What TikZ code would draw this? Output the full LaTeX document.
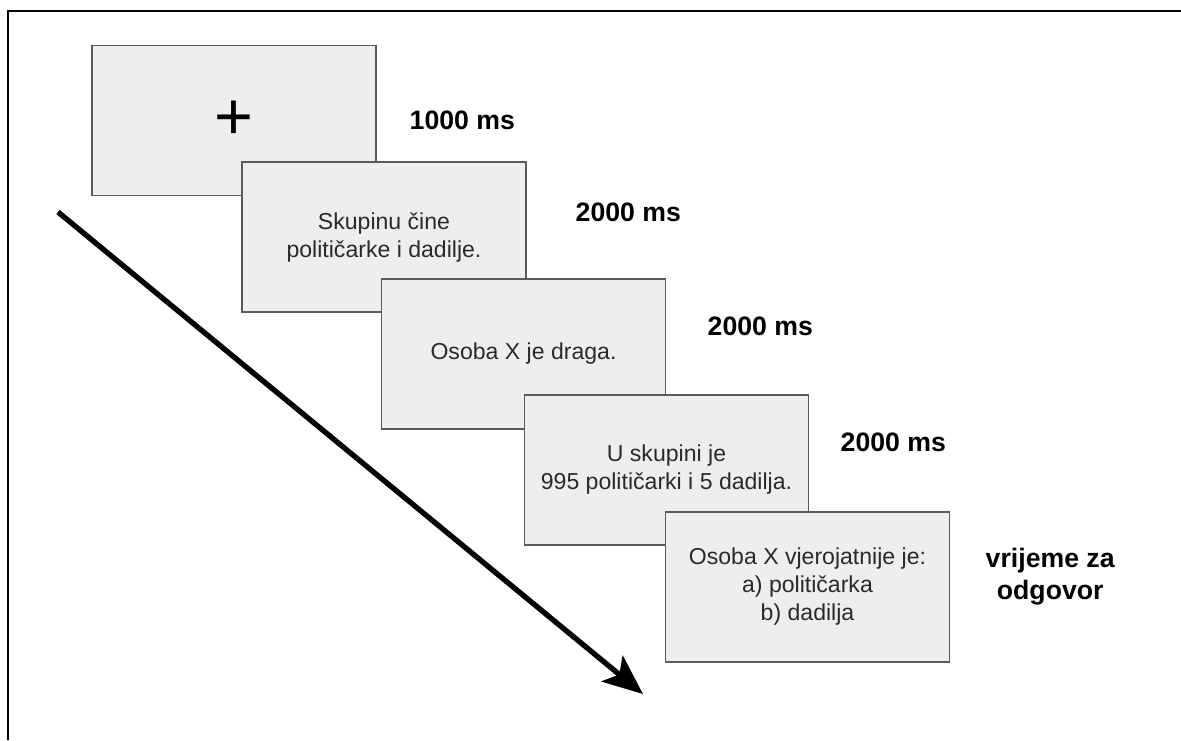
\documentclass[tikz,border=0pt]{standalone}
\usepackage{fontspec}
\setmainfont{Liberation Sans}
\usetikzlibrary{arrows.meta}
\definecolor{slidefill}{HTML}{EEEEEE}
\definecolor{slideline}{HTML}{5A5A5A}
\definecolor{slidetext}{HTML}{2A2A2A}

\tikzset{slide/.style={rectangle, draw=slideline, fill=slidefill, line width=1.1pt,
                       minimum width=213pt, minimum height=112.5pt, align=center,
                       text=slidetext, font=\fontsize{17.3}{21}\selectfont},
         timelbl/.style={anchor=west, align=center, font=\fontsize{20}{24}\selectfont\bfseries}}

\begin{document}
\begin{tikzpicture}[x=0.75pt, y=-0.75pt]
        \useasboundingbox (0,0) rectangle (1181,740);
        % frame
        \draw[line width=2pt] (1181,11) -- (8,11) -- (8,740);
        % slides
        \node[slide] (s1) at (234,120.5) {\textcolor{black}{\fontsize{50}{50}\selectfont +}};
        \node[slide] (s2) at (384,237) {Skupinu čine\\političarke i dadilje.};
        \node[slide] (s3) at (523.5,354) {Osoba X je draga.};
        \node[slide] (s4) at (666.5,470) {U skupini je\\995 političarki i 5 dadilja.};
        \node[slide] (s5) at (807.5,587) {Osoba X vjerojatnije je:\\a) političarka\\b) dadilja};
        % durations
        \node[timelbl] (t1) at (405,120) {1000 ms};
        \node[timelbl] (t2) at (571,212) {2000 ms};
        \node[timelbl] (t3) at (703,326) {2000 ms};
        \node[timelbl] (t4) at (836,442) {2000 ms};
        \node[timelbl] (t5) at (981,577) {vrijeme za\\odgovor};
        % time arrow
        \coordinate (tstart) at (58,212);
        \coordinate (tend) at (643,694);
        \draw[line width=4pt, -{Stealth[length=30pt, width=25pt, inset=7pt]}] (tstart) -- (tend);
\end{tikzpicture}
\end{document}
